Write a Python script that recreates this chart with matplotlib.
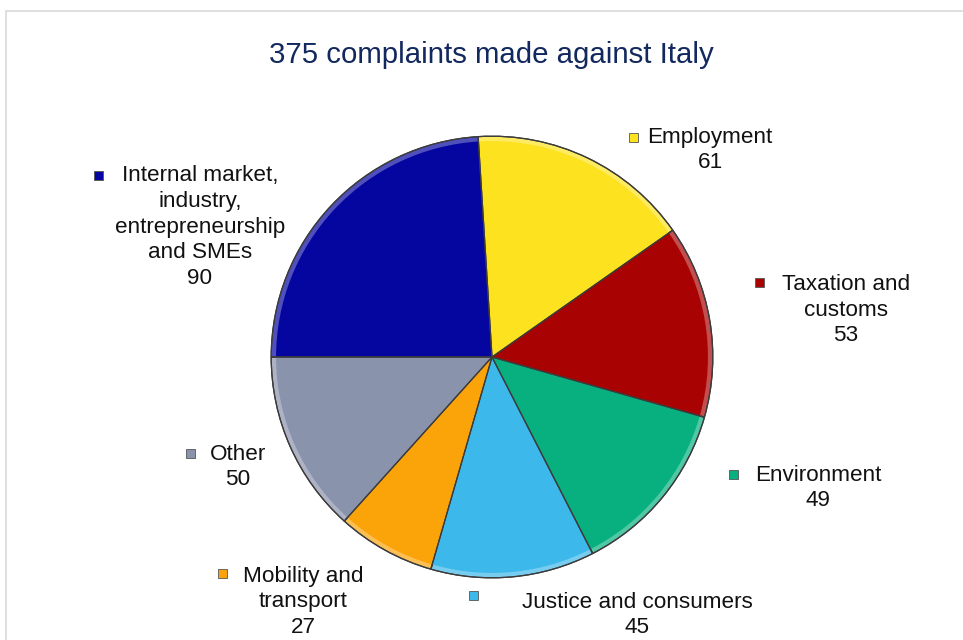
import matplotlib.pyplot as plt
from matplotlib.patches import Rectangle
from matplotlib.colors import to_rgb

plt.rcParams['font.family'] = ['Liberation Sans', 'DejaVu Sans']

# data, clockwise from the left (9 o'clock)
categories = ['Internal market,\nindustry,\nentrepreneurship\nand SMEs', 'Employment',
              'Taxation and\ncustoms', 'Environment', 'Justice and consumers',
              'Mobility and\ntransport', 'Other']
counts = [90, 61, 53, 49, 45, 27, 50]
colors = ['#0505A0', '#FDE21F', '#A80202', '#07B07E', '#3DB8EA', '#FAA40A', '#8A93AC']

# label layout in pixels: text block centre, marker centre
label_pos = [(200, 227), (710, 150), (846, 310), (818, 488), (637, 615), (303, 602), (238, 467)]
marker_pos = [(98, 175), (633, 137), (759, 282), (733, 474), (473, 595), (222, 573), (190, 453)]

W, H = 963, 640
fig = plt.figure(figsize=(W / 100, H / 100), dpi=100)

# pie centre ~ (492, 357) px, radius ~223 px
cx, cy, r = 492, 357, 223
ax = fig.add_axes([(cx - r) / W, (H - cy - r) / H, 2 * r / W, 2 * r / H])


def lighten(c, f):
    rgb = to_rgb(c)
    return tuple(v + (1 - v) * f for v in rgb)


# light rim underneath to fake the bevel
ax.pie(counts, colors=[lighten(c, 0.3) for c in colors], startangle=180,
       counterclock=False, radius=1.0,
       wedgeprops=dict(edgecolor='#3c3c3c', linewidth=0.9))
ax.pie(counts, colors=colors, startangle=180, counterclock=False, radius=0.978,
       wedgeprops=dict(edgecolor='none', linewidth=0))
ax.pie(counts, colors=['none'] * len(counts), startangle=180, counterclock=False, radius=1.0,
       wedgeprops=dict(edgecolor='#3c3c3c', linewidth=0.9, fill=False))
ax.set_xlim(-1.01, 1.01)
ax.set_ylim(-1.01, 1.01)
ax.set_aspect('equal')
ax.axis('off')

fig.text(491 / W, 1 - 55 / H, '375 complaints made against Italy', ha='center', va='center',
         fontsize=21.2, color='#12285E')

for cat, n, col, (tx, ty), (mx, my) in zip(categories, counts, colors, label_pos, marker_pos):
    fig.text(tx / W, 1 - ty / H, f'{cat}\n{n}', ha='center', va='center',
             multialignment='center', fontsize=16.2, linespacing=1.3, color='#111111')
    s = 9
    fig.add_artist(Rectangle(((mx - s / 2) / W, 1 - (my + s / 2) / H), s / W, s / H,
                             transform=fig.transFigure, facecolor=col,
                             edgecolor='#555555', linewidth=0.6))

# thin grey frame of the chart area
fig.add_artist(Rectangle((6 / W, -0.05), 1.0, 1 - 11 / H + 0.05, transform=fig.transFigure,
                         fill=False, edgecolor='#D9D9D9', linewidth=1.2))

fig.savefig('out.png', dpi=100)
